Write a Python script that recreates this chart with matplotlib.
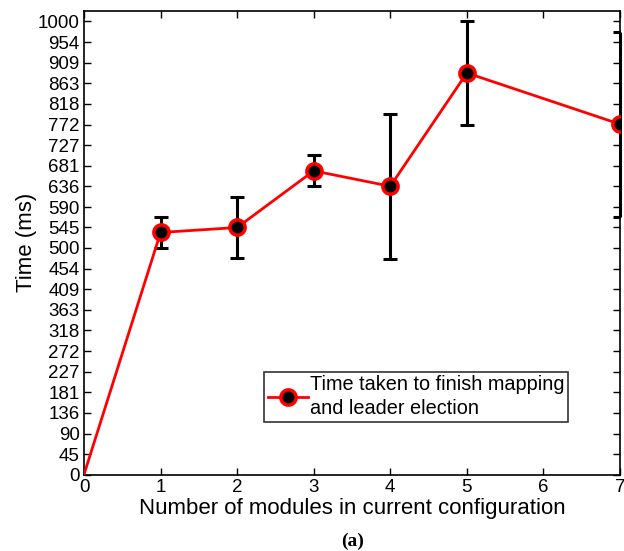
import matplotlib
matplotlib.use("Agg")
import matplotlib.pyplot as plt
import numpy as np

# data
modules = [0, 1, 2, 3, 4, 5, 7]
time_ms = [0, 534, 545, 670, 636, 886, 773]
err_lo = [0, 500, 477, 636, 476, 772, 568]
err_hi = [0, 568, 612, 704, 795, 1000, 977]
yticks = [0, 45, 90, 136, 181, 227, 272, 318, 363, 409, 454, 500, 545,
          590, 636, 681, 727, 772, 818, 863, 909, 954, 1000]
xticks = [0, 1, 2, 3, 4, 5, 6, 7]

plt.rcParams["font.family"] = ["Liberation Sans", "DejaVu Sans"]

fig = plt.figure(figsize=(6.24, 5.51), dpi=100)
ax = fig.add_axes([84 / 624, 1 - 474.5 / 551, 536 / 624, 463.5 / 551])

y = np.array(time_ms, dtype=float)
yerr = np.vstack([y - np.array(err_lo), np.array(err_hi) - y])
# no error bar at the origin point
eb = ax.errorbar(modules[1:], y[1:], yerr=yerr[:, 1:], fmt="none", ecolor="black",
                 elinewidth=2.2, capsize=5, capthick=2.2, zorder=2)
for c in eb.lines[2]:
    c.set_clip_on(False)   # keep the bar at x=7 visible on the spine
ax.plot(modules, y, color="red", lw=2, marker="o", markersize=11,
        markerfacecolor="black", markeredgecolor="red", markeredgewidth=2.5,
        markevery=list(range(1, len(modules))), zorder=3,
        label="Time taken to finish mapping\nand leader election")

ax.set_xlim(0, 7)
ax.set_ylim(0, 1022.7)
ax.set_xticks(xticks)
ax.set_yticks(yticks)
ax.tick_params(direction="in", top=True, right=True, length=5, width=1,
               labelsize=13.5, pad=3)
for s in ax.spines.values():
    s.set_linewidth(1.2)

ax.set_xlabel("Number of modules in current configuration", fontsize=16, labelpad=2)
ax.set_ylabel("Time (ms)", fontsize=16, labelpad=1)

leg = ax.legend(loc="upper left", bbox_to_anchor=((264 - 84) / 536, (474.5 - 371.5) / 463.5),
                fontsize=14.3, frameon=True, fancybox=False, handlelength=2.0,
                handletextpad=0.1, borderpad=0.2, borderaxespad=0,
                labelspacing=0.3)
leg.get_frame().set_edgecolor("black")
leg.get_frame().set_linewidth(1.2)
for t in leg.get_texts():
    t.set_linespacing(1.3)

fig.text(353 / 624, 1 - 541 / 551, "(a)", ha="center", va="center", fontsize=14,
         fontweight="bold", family=["Liberation Serif", "DejaVu Serif"])

fig.savefig("out.png", dpi=100)
